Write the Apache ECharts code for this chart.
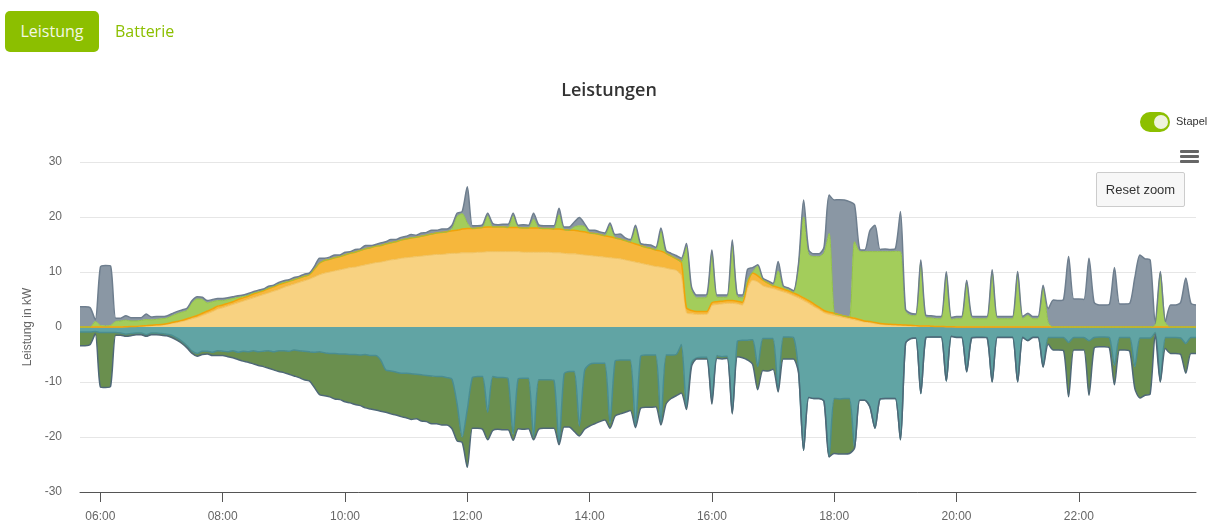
<!DOCTYPE html>
<html>
<head>
<meta charset="utf-8">
<title>Leistungen</title>
<script src="https://cdn.jsdelivr.net/npm/echarts@6.0.0/dist/echarts.min.js"></script>
<style>
  body { margin: 0; background: #fff; font-family: "Open Sans", "Liberation Sans", sans-serif; }
  #main { position: absolute; left: 0; top: 0; width: 1218px; height: 523px; }
  .tab { position: absolute; top: 11px; height: 41px; line-height: 41px; font-size: 16px; text-align: center; }
  .tab.active { left: 5px; width: 94px; background: #8cbf00; color: #f3f8e4; border-radius: 5px; }
  .tab.plain { left: 115px; color: #8cbf00; }
  .switch { position: absolute; left: 1140px; top: 112px; width: 30px; height: 20px; border-radius: 10px; background: #8cbf00; }
  .switch i { position: absolute; left: 14px; top: 3px; width: 14px; height: 14px; border-radius: 7px; background: #eef3dd; }
  .stapel { position: absolute; left: 1176px; top: 115px; font: 11px "Liberation Sans", Arial, sans-serif; color: #333; }
  .burger { position: absolute; left: 1180px; width: 19px; height: 3px; background: #666; border-radius: 1px; }
  .reset { position: absolute; left: 1096px; top: 172px; width: 87px; height: 33px; border: 1px solid #cccccc;
           border-radius: 2px; background: #f7f7f7; color: #333; text-align: center;
           font: 13px "Liberation Sans", Arial, sans-serif; line-height: 33px; }
</style>
</head>
<body>
<div id="main"></div>
<div class="tab active">Leistung</div>
<div class="tab plain">Batterie</div>
<div class="switch"><i></i></div>
<div class="stapel">Stapel</div>
<div class="burger" style="top:150px"></div>
<div class="burger" style="top:155px"></div>
<div class="burger" style="top:160px"></div>
<div class="reset">Reset zoom</div>
<script>
// Zeitachse: 5-Minuten-Werte von 05:40 bis 23:55
var times = [];
for (var m = 5 * 60 + 40; m <= 23 * 60 + 55; m += 5) {
  times.push(('0' + Math.floor(m / 60)).slice(-2) + ':' + ('0' + (m % 60)).slice(-2));
}

var yTicks = [-30, -20, -10, 0, 10, 20, 30];

// PV (hell)
var pvHell = [
  0, 0, 0, 0,
  0, 0, 0, 0, 0, 0.05, 0.1, 0.1, 0.15, 0.2, 0.25, 0.3,
  0.35, 0.5, 0.65, 0.8, 1.0, 1.25, 1.5, 1.75, 2.1, 2.45, 2.8, 3.25,
  3.5, 3.8, 4.1, 4.4, 4.7, 5.0, 5.3, 5.6, 5.9, 6.2, 6.5, 6.8,
  7.2, 7.5, 7.8, 8.1, 8.4, 8.7, 9.1, 9.5, 9.8, 10.0, 10.2, 10.4,
  10.6, 10.8, 10.9, 11.1, 11.3, 11.5, 11.7, 11.8, 12.0, 12.2, 12.3, 12.5,
  12.6, 12.7, 12.8, 12.9, 13.0, 13.1, 13.2, 13.2, 13.3, 13.4, 13.4, 13.5,
  13.5, 13.5, 13.6, 13.6, 13.7, 13.7, 13.7, 13.7, 13.7, 13.7, 13.7, 13.6,
  13.6, 13.6, 13.6, 13.6, 13.6, 13.5, 13.5, 13.4, 13.3, 13.3, 13.2, 13.1,
  13.0, 12.9, 12.8, 12.7, 12.6, 12.5, 12.4, 12.2, 12.0, 11.8, 11.6, 11.4,
  11.2, 11.0, 10.9, 10.7, 10.5, 10.3, 9.3, 2.6, 2.4, 2.3, 2.3, 2.3,
  3.9, 4.1, 4.2, 4.3, 4.3, 4.2, 4.0, 7.0, 8.5, 8.2, 7.5, 7.2,
  7.0, 6.7, 6.4, 6.1, 5.7, 5.3, 4.8, 4.3, 3.7, 3.2, 2.6, 2.3,
  2.1, 1.9, 1.7, 1.5, 1.3, 1.1, 0.9, 0.8, 0.6, 0.5, 0.4, 0.35,
  0.35, 0.3, 0.25, 0.2, 0.2, 0.15, 0.15, 0.1, 0.1, 0.1, 0.05, 0.05,
  0, 0, 0, 0, 0, 0, 0, 0, 0, 0, 0, 0,
  0, 0, 0, 0, 0, 0, 0, 0, 0, 0, 0, 0,
  0, 0, 0, 0, 0, 0, 0, 0, 0, 0, 0, 0,
  0, 0, 0, 0, 0, 0, 0, 0, 0, 0, 0, 0
];

// PV (orange)
var pvOrange = [
  0, 0, 0, 0,
  0, 0, 0, 0, 0, 0, 0, 0, 0.05, 0.05, 0.05, 0.1,
  0.1, 0.1, 0.15, 0.2, 0.2, 0.25, 0.3, 0.35, 0.4, 0.45, 0.5, 0.55,
  0.5, 0.5, 0.5, 0.6, 0.6, 0.6, 0.7, 0.7, 0.7, 0.8, 0.8, 0.9,
  0.8, 0.8, 0.8, 0.8, 0.8, 0.8, 1.4, 2.1, 2.3, 2.3, 2.4, 2.4,
  2.5, 2.6, 2.7, 2.8, 2.9, 2.9, 3.0, 3.0, 3.1, 3.1, 3.2, 3.3,
  3.4, 3.5, 3.5, 3.6, 3.7, 3.8, 3.9, 4.0, 4.0, 4.1, 4.2, 4.3,
  4.4, 4.4, 4.4, 4.5, 4.5, 4.5, 4.5, 4.5, 4.4, 4.4, 4.4, 4.4,
  4.4, 4.4, 4.4, 4.3, 4.3, 4.3, 4.3, 4.3, 4.3, 4.3, 4.2, 4.2,
  4.1, 4.1, 4.0, 3.9, 3.8, 3.7, 3.6, 3.5, 3.4, 3.3, 3.2, 3.1,
  3.1, 3.0, 2.9, 2.7, 2.4, 2.1, 2.5, 0.9, 0.6, 0.5, 0.5, 0.5,
  0.5, 0.5, 0.5, 0.5, 0.5, 0.5, 0.5, 1.0, 1.3, 1.1, 1.0, 0.8,
  0.5, 0.5, 0.5, 0.5, 0.5, 0.5, 0.5, 0.5, 0.5, 0.4, 0.4, 0.4,
  0.4, 0.35, 0.3, 0.3, 0.3, 0.25, 0.2, 0.2, 0.2, 0.15, 0.15, 0.15,
  0.1, 0.1, 0.1, 0.1, 0.05, 0.05, 0.05, 0.05, 0, 0, 0, 0,
  0, 0, 0, 0, 0, 0, 0, 0, 0, 0, 0, 0,
  0, 0, 0, 0, 0, 0, 0, 0, 0, 0, 0, 0,
  0, 0, 0, 0, 0, 0, 0, 0, 0, 0, 0, 0,
  0, 0, 0, 0, 0, 0, 0, 0, 0, 0, 0, 0
];

// Batterie Entladung
var batEntladung = [
  0, 0, 0, 1.0,
  0.3, 0.2, 0.3, 1.0, 1.1, 1.2, 1.0, 1.0, 1.0, 1.1, 1.0, 1.0,
  1.05, 1.0, 1.2, 1.4, 1.5, 1.5, 2.6, 3.0, 2.5, 1.5, 1.3, 1.0,
  0.8, 0.7, 0.6, 0.4, 0.3, 0.2, 0.2, 0.1, 0.1, 0.1, 0.1, 0.1,
  0.1, 0, 0, 0, 0, 0, 0, 0, 0, 0, 0, 0,
  0, 0, 0, 0, 0, 0, 0, 0, 0, 0, 0, 0,
  0, 0, 0, 0, 0, 0, 0, 0, 0, 0.4, 2.5, 2.8,
  1.0, 0, 0, 0, 2.0, 0, 0, 0, 0, 2.1, 0, 0,
  0, 1.6, 0, 0, 0, 0, 2.6, 0, 0, 0.6, 1.0, 1.0,
  0, 0, 0, 0, 2.0, 0, 0, 0, 0, 2.9, 0, 0,
  0, 0, 3.6, 0, 0, 0, 0, 11.0, 3.8, 2.5, 2.5, 2.6,
  9.1, 0.8, 0.7, 0.6, 10.2, 0.8, 0.8, 0.5, 0.2, 1.8, 0.1, 0,
  0, 3.0, 0.3, 0.2, 0.1, 5.5, 14.7, 8.4, 8.6, 9.2, 10.5, 14.3,
  0, 0, 0, 0, 13.9, 12.4, 12.6, 12.7, 12.9, 13.05, 13.15, 13.2,
  13.3, 13.3, 2.5, 1.8, 1.8, 11.5, 1.5, 1.5, 1.4, 1.4, 9.5, 1.3,
  1.5, 1.5, 8.1, 1.6, 1.5, 1.5, 1.5, 10.0, 1.5, 1.5, 1.5, 1.5,
  9.7, 1.5, 2.1, 1.5, 1.5, 7.2, 0.8, 0, 0, 0, 0, 0,
  0, 0, 0, 0, 0, 0, 0, 0, 0, 0, 0, 0,
  0, 0, 0, 0.4, 9.8, 0.8, 0, 0, 0, 0, 0, 0
];

// Netzbezug
var netzBezug = [
  3.7, 3.7, 3.5, 0.3,
  10.6, 11.0, 10.8, 0.6, 0.5, 0.8, 0.6, 0.6, 0.5, 1.0, 0.5, 0.5,
  0.4, 0.4, 0.4, 0.4, 0.4, 0.4, 0.4, 0.4, 0.4, 0.4, 0.4, 0.4,
  0.4, 0.3, 0.3, 0.3, 0.2, 0.3, 0.2, 0.3, 0.2, 0.3, 0.2, 0.3,
  0.3, 0.3, 0.4, 0.3, 0.4, 0.3, 0.5, 0.9, 0.4, 0.4, 0.5, 0.3,
  0.5, 0.3, 0.5, 0.3, 0.6, 0.4, 0.3, 0.5, 0.4, 0.6, 0.4, 0.5,
  0.5, 0.6, 0.4, 0.6, 0.5, 0.7, 0.5, 0.6, 0.5, 0.6, 0.6, 0.4,
  6.6, 0.5, 0.4, 0.5, 0.5, 0.6, 0.4, 0.5, 0.6, 0.5, 0.4, 0.6,
  0.5, 1.1, 0.6, 0.5, 0.5, 0.6, 1.2, 0.5, 0.6, 0.9, 1.5, 0.5,
  0.5, 0.6, 0.5, 0.5, 0.5, 0.6, 0.9, 0.5, 0.5, 0.5, 0.4, 0.5,
  0.6, 0.5, 0.6, 0.5, 0.5, 0.6, 0.7, 0.7, 0.5, 0.5, 0.5, 0.5,
  0.5, 0.4, 0.4, 0.4, 0.8, 0.4, 0.5, 2.0, 0.8, 0.2, 0.3, 0.4,
  0.4, 1.7, 0.3, 0.3, 0.3, 0.2, 3.1, 0.8, 0.5, 0.5, 1.0, 7.0,
  20.6, 20.9, 21.1, 21.0, 6.7, 0.4, 0.3, 3.8, 4.8, 0.4, 0.5, 0.4,
  0.5, 7.3, 0.4, 0.4, 0.3, 0.5, 0.4, 0.4, 0.4, 0.4, 0.5, 0.4,
  0.4, 0.4, 0.4, 0.4, 0.4, 0.4, 0.4, 0.4, 0.4, 0.4, 0.4, 0.4,
  0.4, 0.4, 0.4, 0.4, 0.4, 0.4, 2.5, 4.9, 4.8, 5.0, 12.8, 5.1,
  5.1, 5.0, 12.5, 4.5, 4.0, 4.0, 4.1, 10.8, 4.2, 4.2, 4.3, 9.0,
  13.1, 12.4, 12.2, 0.3, 0.3, 0.2, 4.0, 4.0, 4.5, 8.9, 4.3, 4.0
];

// Verbrauch (negativ)
var verbrauch = [
  -0.9, -0.9, -0.9, -0.8,
  -1.0, -1.0, -1.0, -1.0, -1.1, -1.3, -1.2, -1.1, -1.1, -1.4, -1.1, -1.1,
  -1.2, -1.3, -1.5, -2.0, -2.6, -3.4, -4.4, -4.8, -4.4, -4.4, -4.6, -4.3,
  -4.4, -4.5, -4.3, -4.6, -4.4, -4.5, -4.3, -4.5, -4.4, -4.3, -4.5, -4.3,
  -4.3, -4.4, -4.2, -4.3, -4.4, -4.5, -4.6, -4.5, -4.7, -4.8, -4.8, -4.9,
  -4.9, -5.0, -5.0, -5.1, -5.0, -5.2, -5.2, -6.0, -7.8, -8.0, -8.2, -8.4,
  -8.4, -8.5, -8.6, -8.7, -8.8, -8.9, -9.0, -9.0, -9.2, -9.5, -14.0, -20.0,
  -15.0, -9.2, -9.0, -9.0, -15.5, -9.0, -9.2, -9.2, -9.4, -19.5, -9.4, -9.3,
  -9.3, -20.0, -9.6, -9.6, -9.6, -9.7, -21.2, -8.5, -8.1, -8.1, -18.0, -8.0,
  -6.8, -6.6, -6.6, -6.6, -17.5, -6.2, -6.0, -6.0, -6.0, -18.0, -5.4, -5.1,
  -5.1, -5.1, -17.5, -5.1, -5.1, -5.0, -3.2, -14.5, -6.5, -5.6, -5.5, -5.5,
  -13.3, -5.2, -5.4, -5.3, -15.5, -2.6, -2.4, -2.4, -2.3, -7.2, -2.1, -2.1,
  -2.1, -11.5, -1.8, -1.8, -1.9, -8.0, -22.4, -12.8, -13.0, -13.0, -13.5, -23.6,
  -13.0, -13.1, -13.0, -13.0, -22.0, -13.3, -13.3, -14.5, -18.4, -13.1, -13.0, -13.0,
  -13.0, -20.5, -3.0, -2.1, -2.0, -12.1, -1.9, -1.8, -1.8, -1.8, -9.8, -1.7,
  -1.8, -1.8, -8.1, -1.9, -1.8, -1.8, -1.9, -9.9, -1.8, -1.8, -1.8, -1.8,
  -9.9, -1.8, -2.4, -1.8, -1.8, -7.2, -1.9, -1.9, -1.9, -1.9, -2.8, -1.9,
  -1.9, -1.9, -2.5, -1.9, -1.8, -1.8, -1.9, -7.0, -1.9, -1.9, -1.9, -7.2,
  -2.0, -2.0, -2.0, -1.0, -9.9, -1.9, -1.9, -1.9, -2.0, -3.0, -1.9, -1.9
];

// Einspeisung / Batterie Ladung (negativ)
var einspeisung = [
  -2.5, -2.5, -2.3, -0.4,
  -9.9, -10.0, -9.8, -0.5, -0.4, -0.4, -0.4, -0.3, -0.3, -0.3, -0.3, -0.3,
  -0.3, -0.3, -0.4, -0.4, -0.4, -0.4, -0.4, -0.5, -0.6, -0.5, -0.6, -0.9,
  -0.8, -0.9, -1.3, -1.3, -1.8, -1.9, -2.4, -2.5, -2.8, -3.2, -3.3, -3.8,
  -4.0, -4.2, -4.7, -4.9, -5.2, -5.3, -6.4, -7.8, -7.8, -7.9, -8.3, -8.3,
  -8.7, -8.8, -9.1, -9.2, -9.7, -9.7, -9.9, -9.3, -7.7, -7.8, -7.8, -7.9,
  -8.1, -8.3, -8.1, -8.4, -8.4, -8.7, -8.6, -8.8, -8.6, -9.0, -6.7, -1.0,
  -10.5, -9.2, -9.4, -9.6, -5.0, -9.8, -9.4, -9.5, -9.3, -1.1, -9.1, -9.3,
  -9.2, -0.5, -9.0, -8.8, -8.8, -8.7, -0.2, -9.7, -10.1, -10.9, -1.8, -10.6,
  -11.2, -11.0, -10.6, -10.3, -0.9, -10.0, -9.8, -9.5, -9.2, -0.3, -9.4, -9.5,
  -9.5, -9.4, -0.3, -8.9, -7.9, -7.5, -8.8, -0.5, -0.7, -0.2, -0.3, -0.3,
  -0.7, -0.5, -0.4, -0.4, -0.3, -2.8, -3.2, -3.6, -4.5, -4.2, -5.8, -5.9,
  -5.6, -0.3, -4.0, -4.0, -3.9, -0.3, 0, 0, 0, 0, 0, 0,
  -10.0, -10.0, -10.1, -10.0, 0, 0, 0, 0, 0, 0, 0, 0,
  0, 0, 0, 0, 0, 0, 0, 0, 0, 0, 0, 0,
  -0.1, -0.1, -0.1, -0.1, -0.1, -0.1, -0.1, -0.1, -0.1, -0.1, -0.1, -0.1,
  -0.1, -0.1, -0.1, -0.1, -0.1, -0.1, -1.2, -2.3, -2.3, -2.4, -9.9, -2.3,
  -2.3, -2.3, -9.9, -2.0, -1.8, -1.8, -1.9, -3.5, -2.3, -2.3, -2.5, -4.0,
  -10.9, -10.4, -10.2, -0.3, -0.1, -2.0, -2.9, -2.9, -3.0, -5.4, -2.9, -2.9
];

function area(name, data, stack, fill, line, width) {
  return {
    name: name,
    type: 'line',
    stack: stack,
    data: data,
    smooth: 0.25,
    showSymbol: false,
    symbol: 'none',
    lineStyle: { color: line, width: width },
    itemStyle: { color: fill },
    areaStyle: { color: fill, opacity: 1 }
  };
}

function isLabelTime(idx, val) {
  return val.slice(3) === '00' && parseInt(val, 10) % 2 === 0;
}

var chart = echarts.init(document.getElementById('main'));

var option = {
  animation: false,
  title: {
    text: 'Leistungen',
    left: 'center',
    top: 77,
    textStyle: { fontFamily: 'Open Sans', fontSize: 18, fontWeight: 600, color: '#333333' }
  },
  grid: { left: 80, right: 22, top: 162, bottom: 31 },
  xAxis: {
    type: 'category',
    data: times,
    boundaryGap: false,
    axisLine: { onZero: false, lineStyle: { color: '#555555', width: 1 } },
    axisTick: { show: true, interval: isLabelTime, length: 10, lineStyle: { color: '#555555' } },
    axisLabel: { interval: isLabelTime, margin: 19, color: '#666666', fontSize: 12, fontFamily: 'Liberation Sans' },
    splitLine: { show: false }
  },
  yAxis: {
    type: 'value',
    min: yTicks[0],
    max: yTicks[yTicks.length - 1],
    interval: 10,
    name: 'Leistung in kW',
    nameLocation: 'middle',
    nameGap: 46,
    nameTextStyle: { color: '#666666', fontSize: 12, fontFamily: 'Liberation Sans' },
    axisLine: { show: false },
    axisTick: { show: false },
    axisLabel: { margin: 18, color: '#666666', fontSize: 12, fontFamily: 'Liberation Sans' },
    splitLine: { lineStyle: { color: '#e6e6e6' } }
  },
  series: [
    area('PV Direkt', pvHell, 'plus', '#f8d281', '#f0c260', 1),
    area('PV', pvOrange, 'plus', '#f6b73c', '#f0a308', 1.5),
    area('Batterie Entladung', batEntladung, 'plus', '#a3cd5b', '#93c345', 1),
    area('Netzbezug', netzBezug, 'plus', '#8a97a4', '#6e7e8e', 1.5),
    area('Verbrauch', verbrauch, 'minus', '#61a4a4', '#4a8d91', 1.5),
    area('Einspeisung', einspeisung, 'minus', '#6a8f4e', '#4f6878', 1.5)
  ]
};

chart.setOption(option);
</script>
</body>
</html>
